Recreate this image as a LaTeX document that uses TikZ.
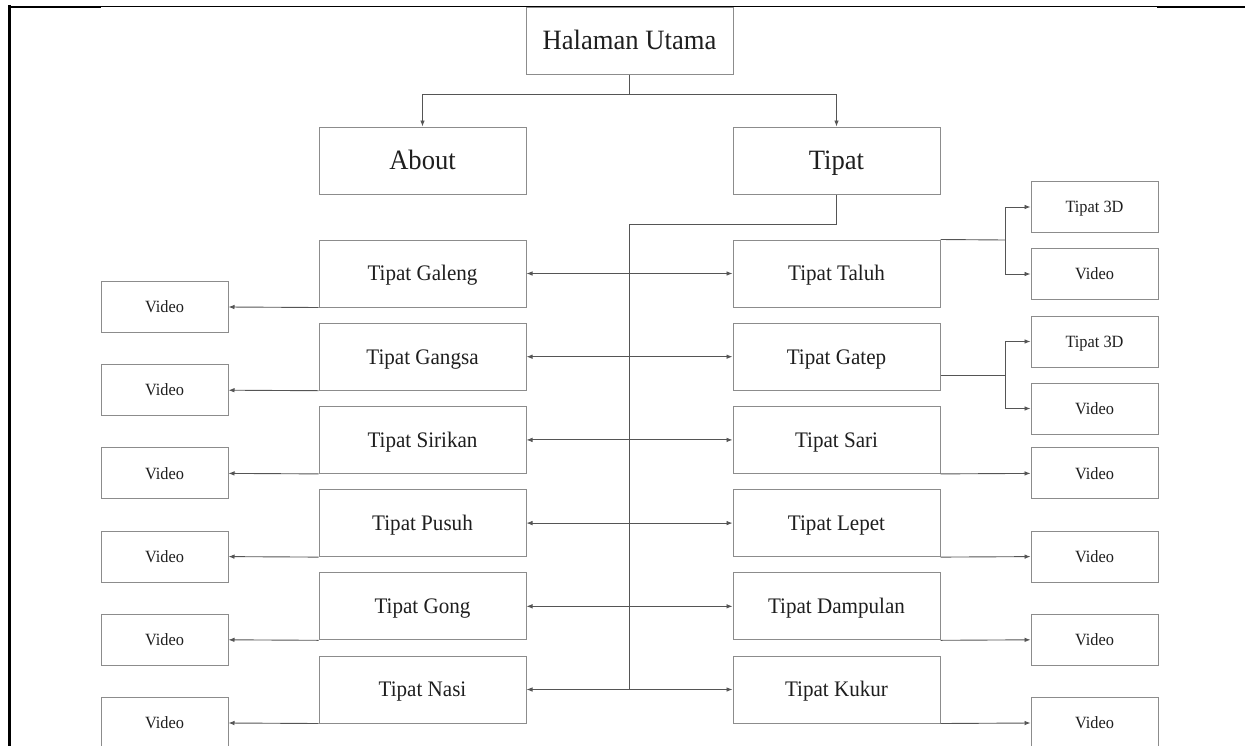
\documentclass[tikz,border=0pt]{standalone}
\usepackage{fontspec}
\setmainfont{Liberation Serif}[FakeStretch=0.95]
\usetikzlibrary{arrows.meta}
\definecolor{boxline}{HTML}{8C8C8C}
\definecolor{conn}{HTML}{555555}
\definecolor{txt}{HTML}{1E1E1E}
\tikzset{
  base/.style={draw=boxline, line width=1pt, rectangle, inner sep=0pt, text=txt, align=center, text depth=0pt},
  bigbox/.style={base, minimum width=207pt, minimum height=67pt, text height=18.5pt, font=\fontsize{28}{30}\selectfont},
  rowbox/.style={base, minimum width=207pt, minimum height=67pt, text height=14.7pt, font=\fontsize{22.2}{24}\selectfont},
  vidbox/.style={base, minimum width=127pt, minimum height=51pt, text height=11.4pt, font=\fontsize{17.2}{18}\selectfont},
  link/.style={draw=conn, line width=0.9pt},
  arr/.style={link, -{Latex[length=6pt,width=4.6pt]}},
  darr/.style={link, {Latex[length=6pt,width=4.6pt]}-{Latex[length=6pt,width=4.6pt]}},
  frame/.style={draw=black, line cap=rect}
}
\begin{document}
\begin{tikzpicture}[x=1pt,y=-1pt]
\useasboundingbox (0,0) rectangle (1245,745);
\clip (0,0) rectangle (1245,745);
% page frame lines
\draw[frame, line width=1pt] (9.5,6) -- (1245,6);
\draw[frame, line width=2pt] (9.5,6.5) -- (100,6.5);
\draw[frame, line width=2pt] (1158,6.5) -- (1245,6.5);
\draw[frame, line width=2.6pt] (9.5,6) -- (9.5,745);

% top levels
\node[bigbox] (main) at (629.5,40.5) {Halaman Utama};
\node[bigbox] (about) at (422.5,160.5) {About};
\node[bigbox] (tipat) at (836.5,160.5) {Tipat};

\coordinate (j0) at (629.5,94);
\draw[link] (main.south) -- (j0);
\draw[arr] (j0) -| (about.north);
\draw[arr] (j0) -| (tipat.north);

% rows
\node[rowbox] (galeng) at (422.5,273.5) {Tipat Galeng};
\node[rowbox] (gangsa) at (422.5,356.7) {Tipat Gangsa};
\node[rowbox] (sirikan) at (422.5,439.9) {Tipat Sirikan};
\node[rowbox] (pusuh) at (422.5,523.1) {Tipat Pusuh};
\node[rowbox] (gong) at (422.5,606.3) {Tipat Gong};
\node[rowbox] (nasi) at (422.5,689.5) {Tipat Nasi};

\node[rowbox] (taluh) at (836.5,273.5) {Tipat Taluh};
\node[rowbox] (gatep) at (836.5,356.7) {Tipat Gatep};
\node[rowbox] (sari) at (836.5,439.9) {Tipat Sari};
\node[rowbox] (lepet) at (836.5,523.1) {Tipat Lepet};
\node[rowbox] (dampulan) at (836.5,606.3) {Tipat Dampulan};
\node[rowbox] (kukur) at (836.5,689.5) {Tipat Kukur};

% spine
\coordinate (s1) at (836.5,224.5);
\coordinate (s2) at (629.5,224.5);
\coordinate (s3) at (629.5,689.5);
\draw[link] (tipat.south) -- (s1) -- (s2) -- (s3);

% bidirectional arrows
\draw[darr] (galeng.east) -- (taluh.west);
\draw[darr] (gangsa.east) -- (gatep.west);
\draw[darr] (sirikan.east) -- (sari.west);
\draw[darr] (pusuh.east) -- (lepet.west);
\draw[darr] (gong.east) -- (dampulan.west);
\draw[darr] (nasi.east) -- (kukur.west);

% left videos
\node[vidbox] (lv1) at (164.5,307) {Video};
\node[vidbox] (lv2) at (164.5,390.2) {Video};
\node[vidbox] (lv3) at (164.5,473.4) {Video};
\node[vidbox] (lv4) at (164.5,556.6) {Video};
\node[vidbox] (lv5) at (164.5,639.8) {Video};
\node[vidbox] (lv6) at (164.5,723) {Video};
\draw[arr] (galeng.south west) -- (lv1.east);
\draw[arr] (gangsa.south west) -- (lv2.east);
\draw[arr] (sirikan.south west) -- (lv3.east);
\draw[arr] (pusuh.south west) -- (lv4.east);
\draw[arr] (gong.south west) -- (lv5.east);
\draw[arr] (nasi.south west) -- (lv6.east);

% right: Taluh branch
\node[vidbox] (t3d1) at (1094.5,207) {Tipat 3D};
\node[vidbox] (rv1) at (1094.5,274) {Video};
\coordinate (b1) at (1005,240);
\draw[link] (taluh.north east) -- (b1);
\draw[arr] (b1) |- (t3d1.west);
\draw[arr] (b1) |- (rv1.west);

% right: Gatep branch
\node[vidbox] (t3d2) at (1094.5,341.5) {Tipat 3D};
\node[vidbox] (rv2) at (1094.5,408.5) {Video};
\coordinate (g0) at ([yshift=-18.5pt]gatep.east);
\coordinate (b2) at (1005,375.2);
\draw[link] (g0) -- (b2);
\draw[arr] (b2) |- (t3d2.west);
\draw[arr] (b2) |- (rv2.west);

% right videos
\node[vidbox] (rv3) at (1094.5,473.4) {Video};
\node[vidbox] (rv4) at (1094.5,556.6) {Video};
\node[vidbox] (rv5) at (1094.5,639.8) {Video};
\node[vidbox] (rv6) at (1094.5,723) {Video};
\draw[arr] (sari.south east) -- (rv3.west);
\draw[arr] (lepet.south east) -- (rv4.west);
\draw[arr] (dampulan.south east) -- (rv5.west);
\draw[arr] (kukur.south east) -- (rv6.west);
\end{tikzpicture}
\end{document}
